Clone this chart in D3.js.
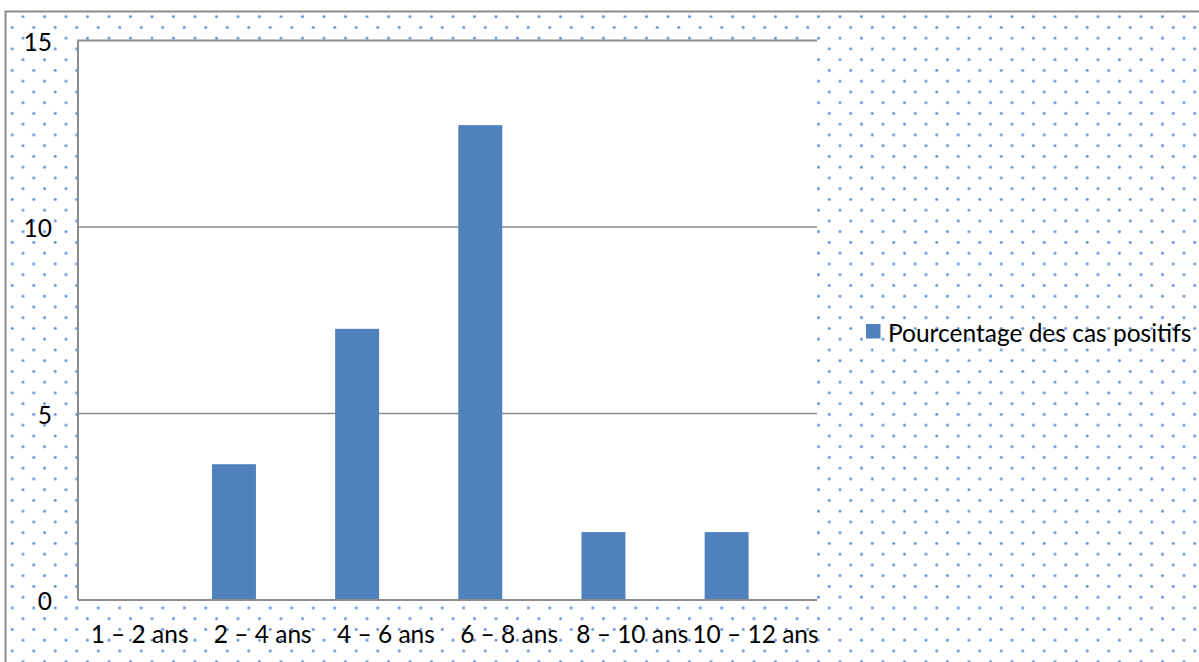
<!DOCTYPE html>
<html>
<head>
<meta charset="utf-8">
<script src="https://cdn.jsdelivr.net/npm/d3@7"></script>
<style>
  html, body { margin: 0; padding: 0; background: #ffffff; }
  svg { display: block; }
  text { font-family: Lato, "Open Sans", sans-serif; fill: #000; }
</style>
</head>
<body>
<svg id="chart" width="1199" height="662"></svg>
<script>
// ---- data ----
const categories = ["1 – 2 ans", "2 – 4 ans", "4 – 6 ans", "6 – 8 ans", "8 – 10 ans", "10 – 12 ans"];
const values = [0, 3.64, 7.27, 12.73, 1.82, 1.82];
const seriesName = "Pourcentage des cas positifs";
const yTicks = [0, 5, 10, 15];

// ---- layout ----
const W = 1199, H = 662;
const plot = { left: 78, right: 817, top: 40.5, bottom: 600 };
const barColor = "#4f81bd";
const lineColor = "#8c8c8c";
const fontSize = "24.5px";

const svg = d3.select("#chart");

// dotted background pattern
const defs = svg.append("defs");
const step = 21.5, half = step / 2;
const pat = defs.append("pattern")
  .attr("id", "dots")
  .attr("patternUnits", "userSpaceOnUse")
  .attr("x", 12.25 - half / 2)
  .attr("y", 16.7 - half / 2)
  .attr("width", step)
  .attr("height", step);
[[half / 2 + half, half / 2], [half / 2, half / 2 + half]].forEach(([cx, cy]) => {
  pat.append("circle").attr("cx", cx).attr("cy", cy).attr("r", 1.7).attr("fill", "#a3bfe8");
  pat.append("circle").attr("cx", cx).attr("cy", cy).attr("r", 1.0).attr("fill", "#4f82cc");
});

// chart area
svg.append("rect")
  .attr("x", 5.5).attr("y", 11.5)
  .attr("width", W + 20).attr("height", H + 20)
  .attr("fill", "url(#dots)")
  .attr("stroke", lineColor).attr("stroke-width", 2);

// scales
const x = d3.scaleBand().domain(categories).range([plot.left, plot.right]).padding(0);
const y = d3.scaleLinear().domain([0, 15]).range([plot.bottom, plot.top]);

// plot area
svg.append("rect")
  .attr("x", plot.left).attr("y", plot.top)
  .attr("width", plot.right - plot.left).attr("height", plot.bottom - plot.top)
  .attr("fill", "#ffffff");

// gridlines
svg.append("g").selectAll("line")
  .data(yTicks.filter(t => t > 0 && t < 15))
  .join("line")
  .attr("x1", plot.left).attr("x2", plot.right)
  .attr("y1", d => y(d)).attr("y2", d => y(d))
  .attr("stroke", lineColor).attr("stroke-width", 1.3);

// plot area border (left + top)
svg.append("path")
  .attr("d", `M${plot.left},${plot.bottom} V${plot.top} H${plot.right}`)
  .attr("fill", "none").attr("stroke", lineColor).attr("stroke-width", 2);

// bars
const bw = x.bandwidth();
const barOffset = bw * 0.0877, barWidth = bw * 0.357;
svg.append("g").selectAll("rect")
  .data(categories.map((c, i) => ({ c, v: values[i] })))
  .join("rect")
  .attr("x", d => x(d.c) + barOffset)
  .attr("width", barWidth)
  .attr("y", d => y(d.v))
  .attr("height", d => y(0) - y(d.v))
  .attr("fill", barColor);

// x axis line
svg.append("line")
  .attr("x1", plot.left).attr("x2", plot.right)
  .attr("y1", plot.bottom).attr("y2", plot.bottom)
  .attr("stroke", lineColor).attr("stroke-width", 2);

// y axis labels
const yAxis = d3.axisLeft(y).tickValues(yTicks).tickSize(0).tickPadding(0);
const yg = svg.append("g").attr("transform", "translate(52,0)").call(yAxis);
yg.select(".domain").remove();
yg.selectAll("text")
  .attr("x", 0).attr("dy", null)
  .attr("dominant-baseline", "central")
  .style("font-family", "Lato, sans-serif").style("font-size", fontSize).attr("fill", "#000");

// x axis labels
const xAxis = d3.axisBottom(x).tickSize(0).tickPadding(0);
const xg = svg.append("g").attr("transform", `translate(0,${plot.bottom})`).call(xAxis);
xg.select(".domain").remove();
xg.selectAll("text")
  .attr("y", 43).attr("dy", null)
  .style("font-family", "Lato, sans-serif").style("font-size", fontSize).attr("fill", "#000");

// legend
const lg = svg.append("g");
lg.append("rect").attr("x", 866).attr("y", 324).attr("width", 14.5).attr("height", 14.5).attr("fill", barColor);
lg.append("text").attr("x", 888).attr("y", 332)
  .attr("dominant-baseline", "central")
  .style("font-size", fontSize)
  .text(seriesName);
</script>
</body>
</html>
